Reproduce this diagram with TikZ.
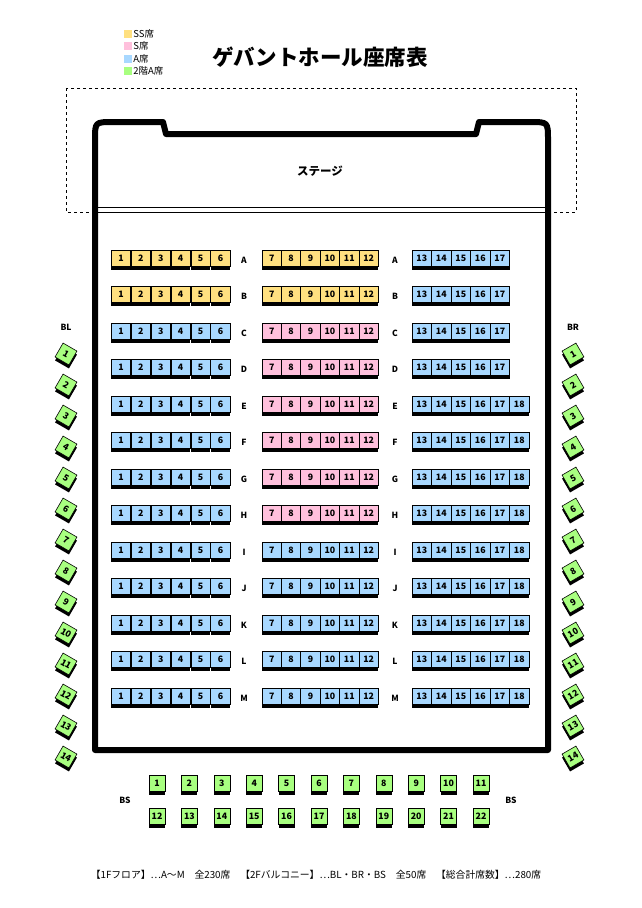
\documentclass[tikz,border=0pt]{standalone}
\usepackage{fontspec}
\setmainfont{Noto Sans CJK JP}
\usetikzlibrary{shadows}
\definecolor{ss}{HTML}{FFE080}
\definecolor{s}{HTML}{FFC0DC}
\definecolor{a}{HTML}{A8D8FF}
\definecolor{g}{HTML}{A8FF80}
\begin{document}
\begin{tikzpicture}[x=1pt,y=-1pt,
      seat/.style={draw,line width=0.6pt,inner sep=0,minimum height=16pt,
        font=\fontsize{8.8}{8.8}\selectfont\bfseries,
        drop shadow={shadow xshift=0pt,shadow yshift=-3.5pt,fill=black,opacity=1}},
      fseat/.style={seat,minimum width=19.5pt},
      bseat/.style={seat,fill=g,minimum width=16pt},
      lbl/.style={font=\fontsize{8.5}{8.5}\selectfont\bfseries},
      key/.style={fill=#1,minimum size=8pt,inner sep=0}]
      \useasboundingbox (0,0) rectangle (641,908);

      % title and legend
      \node[font=\fontsize{21.5}{21.5}\selectfont\bfseries] (title) at (320,57) {ゲバントホール座席表};
      \foreach \c/\t [count=\i from 0] in {ss/SS席,s/S席,a/A席,g/2階A席}{
        \node[key=\c] (key\i) at (128,{34+12.3*\i}) {};
        \node[anchor=west,inner sep=1pt,font=\fontsize{9.5}{9.5}\selectfont] (keytext\i) at (key\i.east) {\t};
      }

      % hall
      \draw[dashed,line width=0.5pt] (66,88) rectangle (576,212);
      \draw[line width=6pt,line join=round] (95,750) -- (95,140) .. controls (95,122) .. (113,122)
        -- (163,122) -- (166,134) -- (476,134) -- (479,122) -- (530,122)
        .. controls (548,122) .. (548,140) -- (548,750) -- cycle;
      \draw[line width=0.8pt] (98,207) -- (545,207) (98,212) -- (545,212);
      \node[font=\fontsize{11.5}{11.5}\selectfont\bfseries] (stage) at (320,171) {ステージ};

      % floor seats
      \foreach \r/\ca/\cb/\n [count=\i from 0] in {A/ss/ss/17,B/ss/ss/17,C/a/s/17,D/a/s/17,
          E/a/s/18,F/a/s/18,G/a/s/18,H/a/s/18,I/a/a/18,J/a/a/18,K/a/a/18,L/a/a/18,M/a/a/18}{
        \pgfmathsetmacro\y{258+36.5*\i}
        \foreach \k in {1,...,6}
          \node[fseat,fill=\ca] (\r\k) at ({111+19.9*(\k-0.5)},\y) {\k};
        \foreach \k in {7,...,12}
          \node[fseat,fill=\cb] (\r\k) at ({262+19.4*(\k-6.5)},\y) {\k};
        \foreach \k in {13,...,\n}
          \node[fseat,fill=a] (\r\k) at ({412+19.5*(\k-12.5)},\y) {\k};
        \node[lbl] (rowl\r) at (244,\y+2) {\r};
        \node[lbl] (rowr\r) at (395,\y+2) {\r};
      }

      % balcony
      \node[lbl] (BL) at (66,327) {BL};
      \node[lbl] (BR) at (573,327) {BR};
      \foreach \k in {1,...,14}{
        \node[bseat,rotate=-30] (BL\k) at (66,{354+31*(\k-1)}) {\k};
        \node[bseat,rotate=30] (BR\k) at (573,{354+31*(\k-1)}) {\k};
      }
      \foreach \k in {1,...,11}{
        \node[bseat] (BS\k) at ({157+32.4*(\k-1)},783) {\k};
        \pgfmathtruncatemacro\m{\k+11}
        \node[bseat] (BS\m) at ({157+32.4*(\k-1)},816) {\m};
      }
      \node[lbl] (BSl) at (125,800) {BS};
      \node[lbl] (BSr) at (511,800) {BS};

      % summary
      \node[font=\fontsize{9.8}{9.8}\selectfont] (summary) at (316,875)
        {【1Fフロア】…A～M　全230席　【2Fバルコニー】…BL・BR・BS　全50席　【総合計席数】…280席};
    \end{tikzpicture}
\end{document}
